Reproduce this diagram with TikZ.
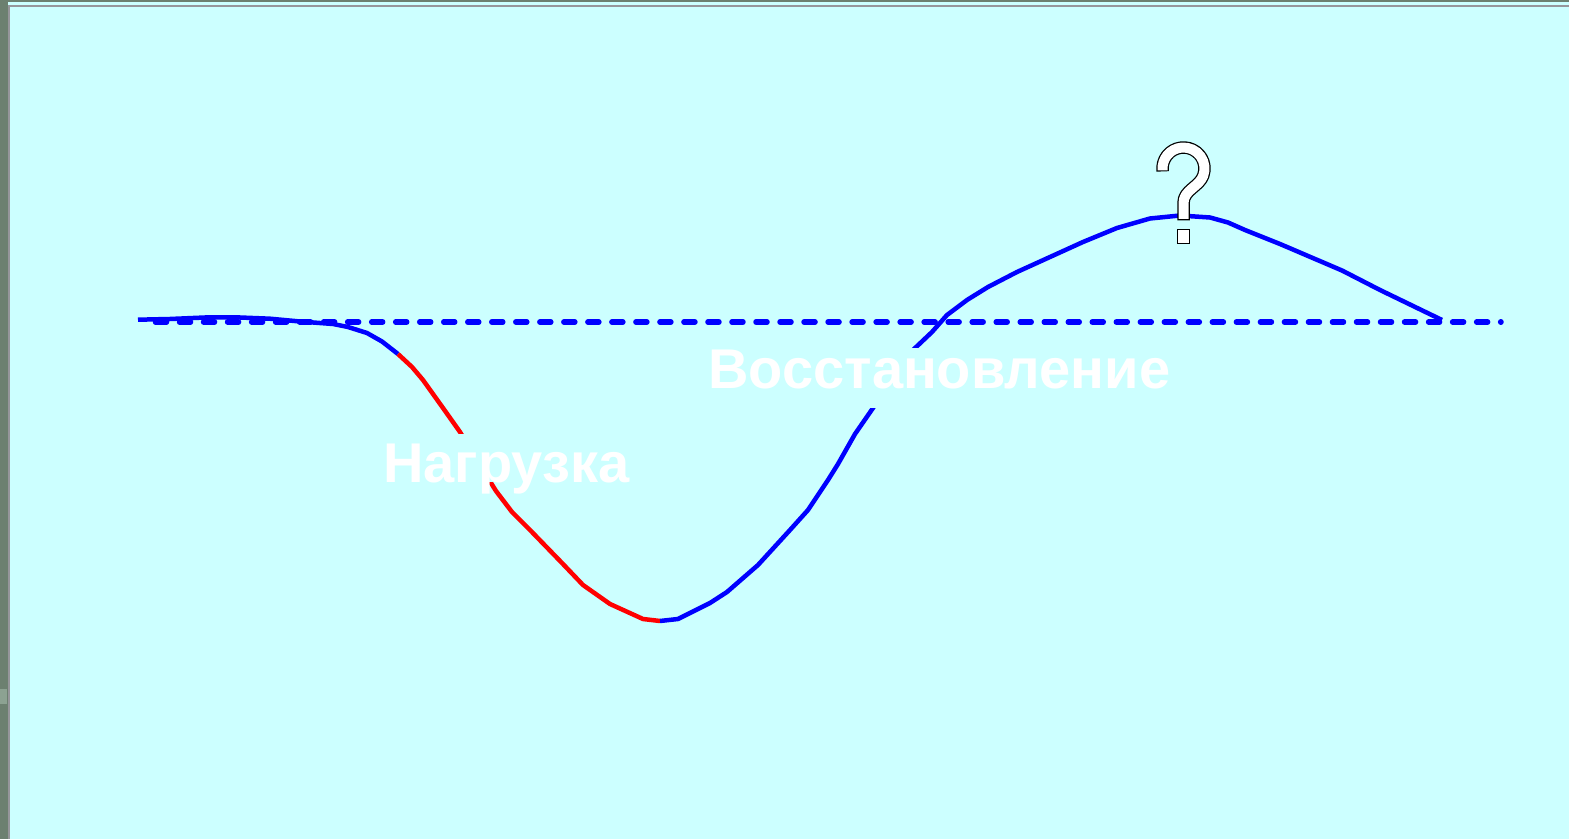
\documentclass[tikz,border=0pt]{standalone}
\usepackage{fontspec}
\setmainfont{Liberation Sans}
\definecolor{bg}{RGB}{204,255,255}
\definecolor{framegreen}{RGB}{108,128,112}
\definecolor{framepatch}{RGB}{140,162,146}
\definecolor{rim}{RGB}{150,150,155}
\definecolor{curveblue}{RGB}{0,0,255}
\definecolor{curvered}{RGB}{255,0,0}
\begin{document}
\begin{tikzpicture}[x=0.5pt,y=-0.5pt,
  curveline/.style={line width=2.25pt, line join=round},
  baseline/.style={curveblue, line width=2.75pt, line cap=round, dash pattern=on 5.5pt off 6.51pt},
  txtlbl/.style={text=white, fill=bg, inner sep=0pt, anchor=base west,
    font=\fontsize{28pt}{30pt}\selectfont\bfseries},
  qmark/.style={line join=round}]
\useasboundingbox (0,0) rectangle (1569,839);
% background and window frame
\fill[bg] (0,0) rectangle (1569,839);
\fill[framegreen] (0,0) rectangle (8,839);
\fill[framepatch] (0,689) rectangle (7,704);
\fill[framegreen] (0,0) rectangle (1569,2);
\fill[rim] (8,5.3) rectangle (1569,7);
\fill[rim] (8,5.3) rectangle (9.7,839);
% reference level (dashed)
\draw[baseline] (155.5,322) -- (1501,322);
% curve: blue start
\draw[curveline, curveblue] (138,319.7) -- (170,319) -- (205,317.5) -- (240,317.5) -- (270,318.7)
  -- (300,321.5) -- (333,324) -- (348,327) -- (367,333) -- (382,341.5) -- (398,354);
% red load phase
\draw[curveline, curvered] (398,354) -- (412,367) -- (423,380) -- (443,408) -- (460,432)
  -- (478,462) -- (496,491) -- (512,512) -- (530,530) -- (562,563) -- (583,585)
  -- (610,604) -- (643,619) -- (660,621);
% blue recovery phase
\draw[curveline, curveblue] (660,621) -- (678,619) -- (710,603) -- (727,592) -- (758,565)
  -- (790,530) -- (808,510) -- (828,480) -- (838,464) -- (855,434) -- (873,408)
  -- (913,350) -- (932,332) -- (947,315) -- (967,300) -- (988,287) -- (1017,272)
  -- (1050,257) -- (1083,242) -- (1117,228) -- (1150,218.5) -- (1180,215.5)
  -- (1210,217.5) -- (1228,222.5) -- (1245,230) -- (1280,244) -- (1342,270.5)
  -- (1380,290) -- (1442,320);
% labels
\node[txtlbl, text height=24pt, text depth=0pt] (load) at (383,482) {Нагрузка};
\node[txtlbl, text height=20.5pt, text depth=9.5pt] (recovery) at (708,389) {Восстановление};
% question mark (outlined)
\draw[qmark, black, line width=6.25pt] (1183.5,168.5) ++(172:21)
  arc[start angle=172, end angle=380, radius=21]
  .. controls +(110:12) and (1183.5,190) .. (1183.5,203) -- (1183.5,220.3);
\draw[qmark, white, line width=5pt] (1183.5,168.5) ++(175:21)
  arc[start angle=175, end angle=380, radius=21]
  .. controls +(110:12) and (1183.5,190) .. (1183.5,203) -- (1183.5,219);
\draw[black, fill=white, line width=0.65pt] (1177.5,229.5) rectangle (1189.5,243.5);
\end{tikzpicture}
\end{document}
